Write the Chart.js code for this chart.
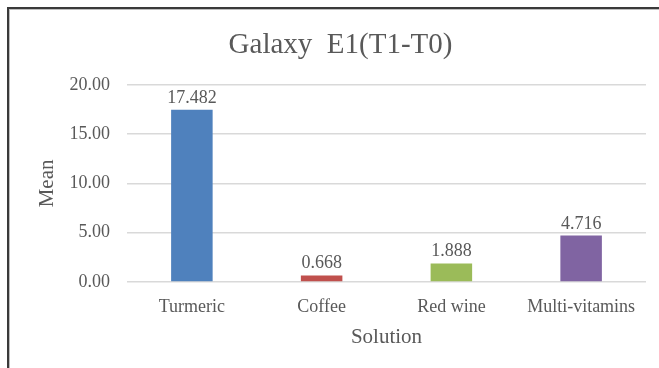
<!DOCTYPE html>
<html lang="en">
<head>
    <meta charset="utf-8">
    <title>Galaxy E1(T1-T0)</title>
    <style>
        body { margin: 0; background: #fff; }
        #wrap { position: relative; width: 659px; height: 368px; }
        #frame {
            position: absolute; left: 7px; top: 7px; right: -4px; bottom: -4px;
            border-left: 2px solid #3a3a3a; border-top: 2px solid #3a3a3a;
            box-shadow: inset 1px 1px 0 #bdbdbd;
            pointer-events: none;
        }
    </style>
</head>
<body>
<div id="wrap">
    <canvas id="myChart" width="659" height="368"></canvas>
    <div id="frame"></div>
</div>
<script src="https://cdn.jsdelivr.net/npm/chart.js@4.4.1/dist/chart.umd.min.js"></script>
<script>
    var solutions = ['Turmeric', 'Coffee', 'Red wine', 'Multi-vitamins'];
    var means = [17.482, 0.668, 1.888, 4.716];
    var barColors = ['#4f81bd', '#c0504d', '#9bbb59', '#8064a2'];
    var yTicks = [0, 5, 10, 15, 20];

    var textColor = '#595959';
    var serif = "'Liberation Serif', 'Times New Roman', serif";
    Chart.defaults.font.family = serif;

    // value labels above each bar
    var valueLabels = {
        id: 'valueLabels',
        afterDatasetsDraw: function (chart) {
            var ctx = chart.ctx;
            var meta = chart.getDatasetMeta(0);
            ctx.save();
            ctx.font = '18px ' + serif;
            ctx.fillStyle = textColor;
            ctx.textAlign = 'center';
            ctx.textBaseline = 'alphabetic';
            meta.data.forEach(function (bar, i) {
                ctx.fillText(means[i].toFixed(3), bar.x, bar.y - 7);
            });
            ctx.restore();
        }
    };

    var ctx = document.getElementById('myChart');
    var chart = new Chart(ctx, {
        type: 'bar',
        data: {
            labels: solutions,
            datasets: [{
                data: means,
                backgroundColor: barColors,
                barPercentage: 0.32,
                categoryPercentage: 1
            }]
        },
        options: {
            responsive: false,
            animation: false,
            layout: { padding: { top: 28, left: 35, right: 13, bottom: 18 } },
            plugins: {
                legend: { display: false },
                tooltip: { enabled: false },
                title: {
                    display: true,
                    text: 'Galaxy  E1(T1-T0)',
                    color: textColor,
                    font: { family: serif, size: 29, weight: 'normal' },
                    padding: { top: 0, bottom: 22 }
                }
            },
            scales: {
                x: {
                    grid: { display: false, drawTicks: false },
                    border: { display: false },
                    ticks: { color: textColor, font: { family: serif, size: 18 }, padding: 14, maxRotation: 0 },
                    title: {
                        display: true, text: 'Solution', color: textColor,
                        font: { family: serif, size: 21 }, padding: { top: 7, bottom: 0 }
                    },
                    afterFit: function (axis) { axis.height = 68; }
                },
                y: {
                    min: 0,
                    max: 20,
                    afterBuildTicks: function (axis) {
                        axis.ticks = yTicks.map(function (v) { return { value: v }; });
                    },
                    grid: { color: '#d9d9d9', lineWidth: 1.5, drawTicks: false },
                    border: { display: false },
                    ticks: {
                        color: textColor, font: { family: serif, size: 18 }, padding: 17,
                        callback: function (v) { return Number(v).toFixed(2); }
                    },
                    title: {
                        display: true, text: 'Mean', color: textColor,
                        font: { family: serif, size: 21 }, padding: { top: 0, bottom: 0 }
                    },
                    afterFit: function (axis) { axis.width = 92; }
                }
            }
        },
        plugins: [valueLabels]
    });
</script>
</body>
</html>
